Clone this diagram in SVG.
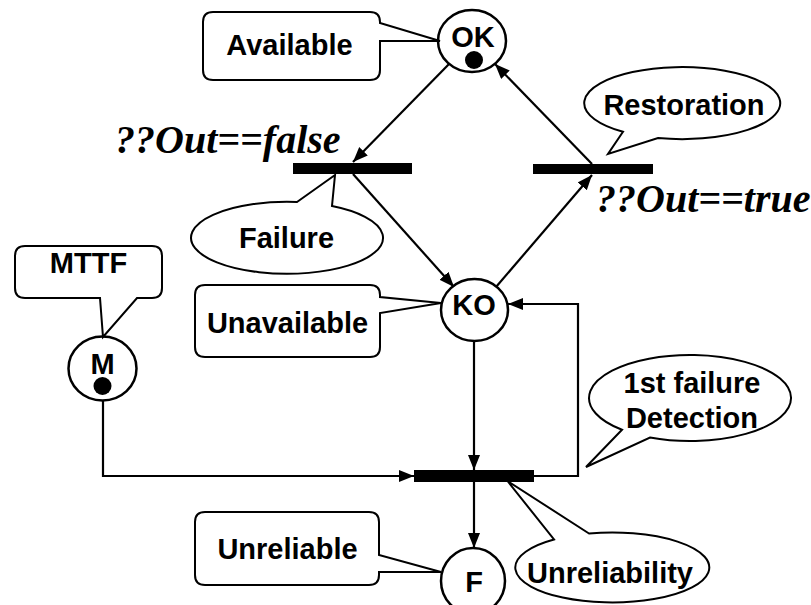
<svg xmlns="http://www.w3.org/2000/svg" width="811" height="605" viewBox="0 0 811 605">
  <style>
    .place { fill: #fff; stroke: #000; stroke-width: 2.5; }
    .token { fill: #000; }
    .bar { fill: #000; }
    .callout { fill: #fff; stroke: #000; stroke-width: 2; stroke-linejoin: miter; }
    .arc { fill: none; stroke: #000; stroke-width: 2.2; }
    .lbl { font-family: "Liberation Sans", Arial, sans-serif; font-weight: bold; font-size: 29px; text-anchor: middle; fill: #000; }
    .guard { font-family: "Liberation Serif", "Times New Roman", serif; font-weight: bold; font-style: italic; font-size: 40px; fill: #000; }
  </style>
  <defs>
    <marker id="arrow" markerUnits="userSpaceOnUse" markerWidth="16" markerHeight="14" refX="15" refY="6" orient="auto">
      <path d="M0,0 L15,6 L0,12 Z" fill="#000"/>
    </marker>
  </defs>

  <!-- connectors -->
  <g id="connectors">
    <path class="arc" d="M450,63 L353,162" marker-end="url(#arrow)"/>
    <path class="arc" d="M353,174 L454,287" marker-end="url(#arrow)"/>
    <path class="arc" d="M496,287 L592,175" marker-end="url(#arrow)"/>
    <path class="arc" d="M592,164 L495,64" marker-end="url(#arrow)"/>
    <path class="arc" d="M474,342 L474,470" marker-end="url(#arrow)"/>
    <path class="arc" d="M474,482 L474,548" marker-end="url(#arrow)"/>
    <path class="arc" d="M103,400 V476 H414" marker-end="url(#arrow)"/>
    <path class="arc" d="M534,476 H578 V304 H508" marker-end="url(#arrow)"/>
  </g>

  <!-- transitions -->
  <g id="t-failure">
    <rect class="bar" x="293" y="163" width="119" height="11"/>
    <text class="guard" x="115" y="153">??Out==false</text>
  </g>
  <g id="t-restoration">
    <rect class="bar" x="533" y="164" width="120" height="10"/>
    <text class="guard" x="596" y="212">??Out==true</text>
  </g>
  <g id="t-detection">
    <rect class="bar" x="414" y="470" width="120" height="12"/>
  </g>

  <!-- places -->
  <g id="p-ok">
    <ellipse class="place" cx="472" cy="41" rx="34" ry="31"/>
    <text class="lbl" x="473" y="47" font-size="28">OK</text>
    <circle class="token" cx="474" cy="60" r="9"/>
  </g>
  <g id="p-ko">
    <ellipse class="place" cx="474.5" cy="310" rx="33.5" ry="31"/>
    <text class="lbl" x="474" y="315" font-size="28">KO</text>
  </g>
  <g id="p-m">
    <ellipse class="place" cx="102.5" cy="368.5" rx="34" ry="32"/>
    <text class="lbl" x="102.5" y="374" font-size="28">M</text>
    <circle class="token" cx="102.5" cy="386" r="9"/>
  </g>
  <g id="p-f">
    <ellipse class="place" cx="473" cy="581" rx="32" ry="33"/>
    <text class="lbl" x="474" y="592" font-size="28">F</text>
  </g>

  <!-- rectangular callouts -->
  <g id="c-available">
    <path class="callout" d="M213,12 H370 Q380,12 380,22 V23 L440,41 L380,41 V70 Q380,80 370,80 H213 Q203,80 203,70 V22 Q203,12 213,12 Z"/>
    <text class="lbl" x="289.5" y="55">Available</text>
  </g>
  <g id="c-unavailable">
    <path class="callout" d="M205,285 H370 Q380,285 380,295 V297 L441,303 L380,313 V347 Q380,357 370,357 H205 Q195,357 195,347 V295 Q195,285 205,285 Z"/>
    <text class="lbl" x="287.5" y="333">Unavailable</text>
  </g>
  <g id="c-unreliable">
    <path class="callout" d="M205,512 H369 Q379,512 379,522 V555 L441,572 L379,572 V575 Q379,585 369,585 H205 Q195,585 195,575 V522 Q195,512 205,512 Z"/>
    <text class="lbl" x="287.5" y="559">Unreliable</text>
  </g>
  <g id="c-mttf">
    <path class="callout" d="M25,246 H152 Q162,246 162,256 V288 Q162,298 152,298 H137 L103,337 L100,298 H25 Q15,298 15,288 V256 Q15,246 25,246 Z"/>
    <text class="lbl" x="88.5" y="273">MTTF</text>
  </g>

  <!-- oval callouts -->
  <g id="c-restoration">
    <path class="callout" d="M623,131.8 L608,154 L658,138 A98,36 0 1 0 623,131.8 Z"/>
    <text class="lbl" x="684" y="115">Restoration</text>
  </g>
  <g id="c-failure">
    <path class="callout" d="M297,202 L335,175 L332,206 A96,36 0 1 1 297,202 Z"/>
    <text class="lbl" x="286.5" y="248">Failure</text>
  </g>
  <g id="c-detection">
    <path class="callout" d="M622,429.8 L586,467 L650,437.5 A101,43 0 1 0 622,429.8 Z"/>
    <text class="lbl" x="692" y="393">1st failure</text>
    <text class="lbl" x="692" y="428">Detection</text>
  </g>
  <g id="c-unreliability">
    <path class="callout" d="M589,533.5 L507.5,481 L554,539.5 A97,35 0 1 0 589,533.5 Z"/>
    <text class="lbl" x="610" y="583">Unreliability</text>
  </g>
</svg>
